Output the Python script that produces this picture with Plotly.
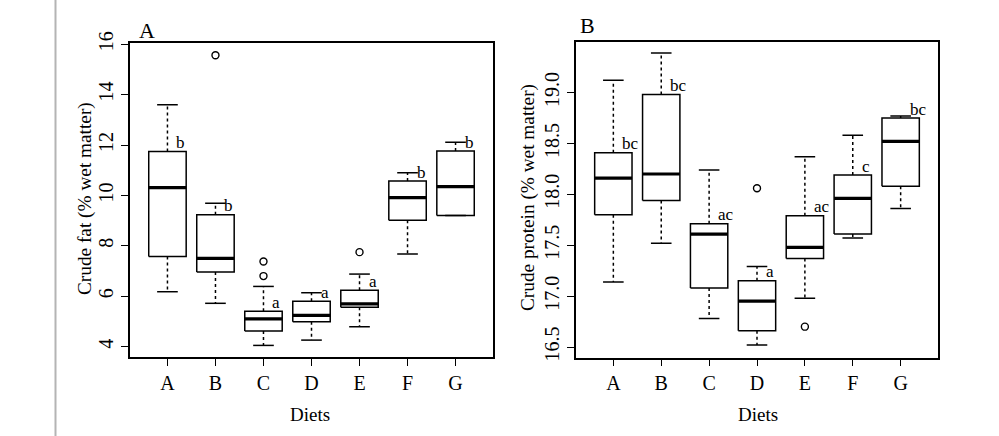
import plotly.graph_objects as go

W, H = 999, 436

diets = ["A", "B", "C", "D", "E", "F", "G"]

# Panel A: crude fat (% wet matter)
fat_low = [6.18, 5.72, 4.05, 4.26, 4.79, 7.68, 9.20]
fat_q1 = [7.58, 6.96, 4.62, 4.99, 5.56, 9.02, 9.20]
fat_med = [10.31, 7.50, 5.10, 5.24, 5.70, 9.91, 10.35]
fat_q3 = [11.74, 9.23, 5.41, 5.80, 6.24, 10.57, 11.76]
fat_high = [13.60, 9.69, 6.39, 6.14, 6.88, 10.90, 12.11]
fat_out = [[], [15.56], [7.38, 6.80], [], [7.75], [], []]
fat_letters = ["b", "b", "a", "a", "a", "b", "b"]

# Panel B: crude protein (% wet matter)
prot_low = [17.14, 17.52, 16.78, 16.52, 16.98, 17.57, 17.86]
prot_q1 = [17.80, 17.94, 17.08, 16.66, 17.37, 17.61, 18.08]
prot_med = [18.16, 18.20, 17.61, 16.95, 17.48, 17.96, 18.52]
prot_q3 = [18.41, 18.98, 17.71, 17.15, 17.79, 18.19, 18.75]
prot_high = [19.12, 19.39, 18.24, 17.29, 18.37, 18.58, 18.77]
prot_out = [[], [], [], [18.06], [16.70], [], []]
prot_letters = ["bc", "bc", "ac", "a", "ac", "c", "bc"]

fat_ticks = [4, 6, 8, 10, 12, 14, 16]
prot_ticks = [16.5, 17.0, 17.5, 18.0, 18.5, 19.0]
prot_ticktext = ["16.5", "17.0", "17.5", "18.0", "18.5", "19.0"]

FONT = "Liberation Serif"
BOXW = 0.39
CAPW = 0.215
LW = 1.5

fig = go.Figure()


def add_panel(xa, ya, low, q1, med, q3, high, outs, letters):
    for i in range(len(diets)):
        # box
        fig.add_trace(go.Scatter(
            x=[i - BOXW, i + BOXW, i + BOXW, i - BOXW, i - BOXW],
            y=[q1[i], q1[i], q3[i], q3[i], q1[i]],
            mode="lines", line=dict(color="black", width=LW),
            xaxis=xa, yaxis=ya, showlegend=False, hoverinfo="skip"))
        # median
        fig.add_trace(go.Scatter(
            x=[i - BOXW, i + BOXW], y=[med[i], med[i]],
            mode="lines", line=dict(color="black", width=3.2),
            xaxis=xa, yaxis=ya, showlegend=False, hoverinfo="skip"))
        # whiskers (dashed)
        fig.add_trace(go.Scatter(
            x=[i, i, None, i, i], y=[q3[i], high[i], None, q1[i], low[i]],
            mode="lines", line=dict(color="black", width=LW, dash="3px,3px"),
            xaxis=xa, yaxis=ya, showlegend=False, hoverinfo="skip"))
        # caps
        fig.add_trace(go.Scatter(
            x=[i - CAPW, i + CAPW, None, i - CAPW, i + CAPW],
            y=[high[i], high[i], None, low[i], low[i]],
            mode="lines", line=dict(color="black", width=LW),
            xaxis=xa, yaxis=ya, showlegend=False, hoverinfo="skip"))
        # outliers
        if outs[i]:
            fig.add_trace(go.Scatter(
                x=[i] * len(outs[i]), y=outs[i], mode="markers",
                marker=dict(symbol="circle-open", size=7,
                            color="black", line=dict(width=1.4)),
                xaxis=xa, yaxis=ya, showlegend=False, hoverinfo="skip"))
        # significance letters
        fig.add_annotation(
            x=i, y=q3[i], xref=xa, yref=ya, text=letters[i],
            showarrow=False, xanchor="left", yanchor="middle",
            xshift=7, yshift=9,
            font=dict(family=FONT, size=17, color="black"))


add_panel("x", "y", fat_low, fat_q1, fat_med, fat_q3, fat_high, fat_out, fat_letters)
add_panel("x2", "y2", prot_low, prot_q1, prot_med, prot_q3, prot_high, prot_out, prot_letters)


def px_x(p):
    return p / W


def px_y(p):
    return 1 - p / H


axis_common = dict(
    showline=True, mirror=True, linecolor="black", linewidth=1.5,
    ticks="outside", ticklen=7, tickwidth=1.3, tickcolor="black",
    showgrid=False, zeroline=False, automargin=False,
    tickfont=dict(family=FONT, size=20, color="black"),
)

fig.update_layout(
    width=W, height=H,
    margin=dict(l=0, r=0, t=0, b=0),
    paper_bgcolor="white", plot_bgcolor="white",
    showlegend=False,
    font=dict(family=FONT, color="black"),
    xaxis=dict(axis_common, domain=[px_x(130), px_x(493)], range=[-0.78, 6.78],
               tickmode="array", tickvals=list(range(7)), ticktext=diets,
               anchor="y"),
    yaxis=dict(axis_common, domain=[px_y(357), px_y(42.7)], range=[3.59, 16.06],
               tickmode="array", tickvals=fat_ticks, tickangle=-90,
               anchor="x"),
    xaxis2=dict(axis_common, domain=[px_x(576), px_x(938)], range=[-0.78, 6.78],
                tickmode="array", tickvals=list(range(7)), ticktext=diets,
                anchor="y2"),
    yaxis2=dict(axis_common, domain=[px_y(357.7), px_y(41.7)], range=[16.395, 19.50],
                tickmode="array", tickvals=prot_ticks, ticktext=prot_ticktext,
                tickangle=-90, anchor="x2"),
)

# grey separator line on the left
fig.add_shape(type="line", xref="paper", yref="paper",
              x0=px_x(55.5), x1=px_x(55.5), y0=0, y1=1,
              line=dict(color="#b4b4b4", width=2))

texts = [
    # panel titles
    dict(x=px_x(147), y=px_y(30), text="A", size=22),
    dict(x=px_x(587), y=px_y(25), text="B", size=22),
    # x titles
    dict(x=px_x(310), y=px_y(414), text="Diets", size=19),
    dict(x=px_x(758), y=px_y(414), text="Diets", size=19),
]
for t in texts:
    fig.add_annotation(x=t["x"], y=t["y"], xref="paper", yref="paper",
                       text=t["text"], showarrow=False,
                       xanchor="center", yanchor="middle",
                       font=dict(family=FONT, size=t["size"], color="black"))

# y titles (rotated)
fig.add_annotation(x=px_x(85), y=px_y(199), xref="paper", yref="paper",
                   text="Crude fat (% wet matter)", showarrow=False,
                   textangle=-90, xanchor="center", yanchor="middle",
                   font=dict(family=FONT, size=19.3, color="black"))
fig.add_annotation(x=px_x(528), y=px_y(198), xref="paper", yref="paper",
                   text="Crude protein (% wet matter)", showarrow=False,
                   textangle=-90, xanchor="center", yanchor="middle",
                   font=dict(family=FONT, size=19.3, color="black"))

fig.write_html("out.html")
